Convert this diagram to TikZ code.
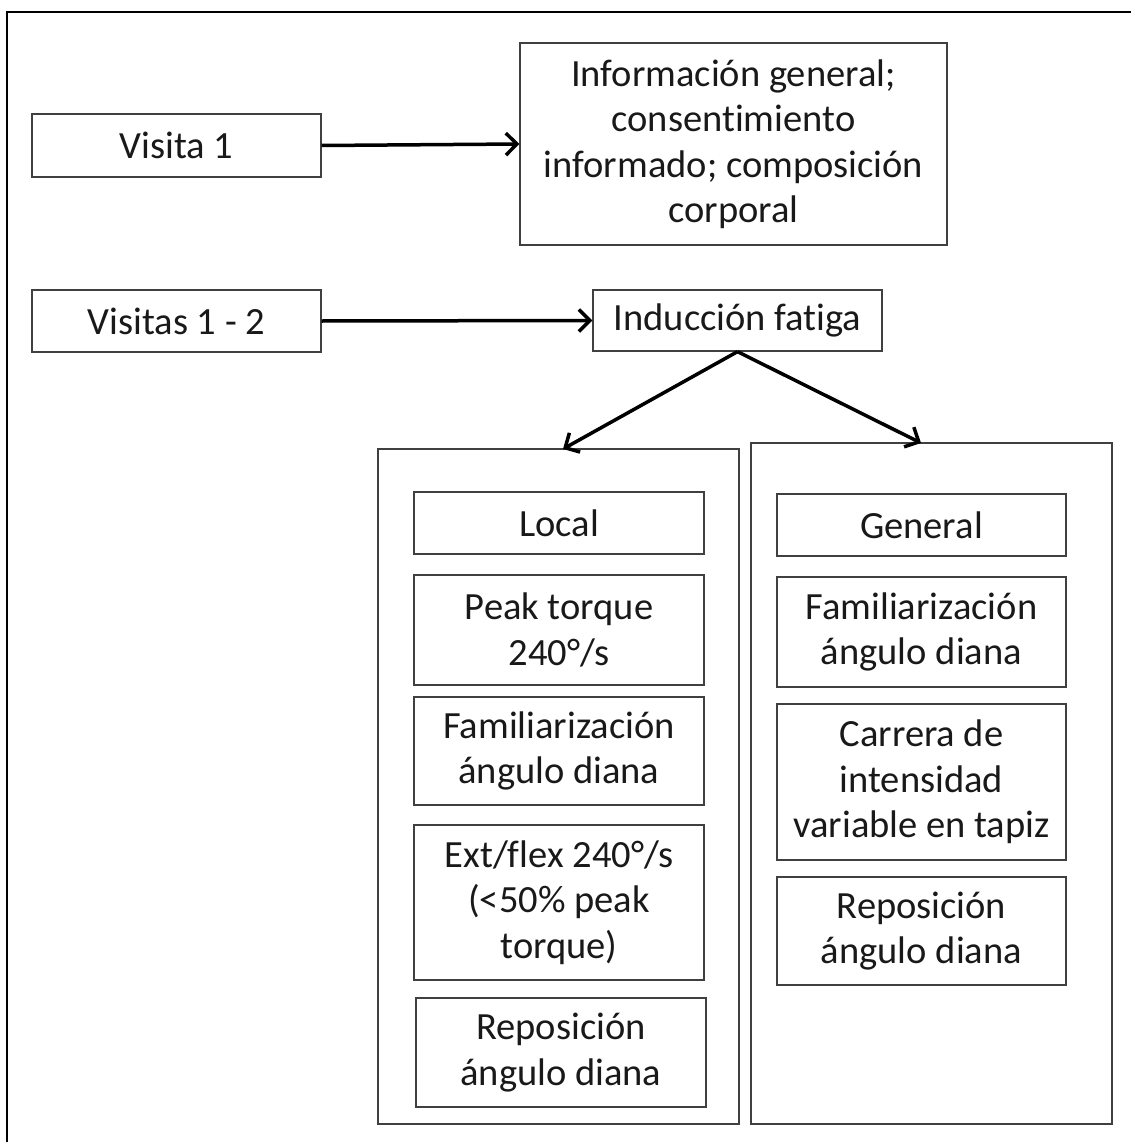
\documentclass[tikz,border=0pt]{standalone}
\usepackage{fontspec}
\setmainfont{Carlito}[Ligatures=NoCommon]
\usetikzlibrary{arrows.meta}
\tikzset{
  box/.style={draw=black!75, line width=1.3pt, fill=white, align=center, inner sep=0pt,
    font=\fontsize{38.5}{45.5}\selectfont, text=black!90},
  frame/.style={draw=black!75, line width=1.3pt, inner sep=0pt},
  conn/.style={draw=black, line width=3.5pt, -{Straight Barb[length=11pt,width=22pt,line width=3.5pt]}},
}
\begin{document}
\begin{tikzpicture}[x=1pt,y=-1pt]
\useasboundingbox (0,0) rectangle (1131,1142);
\draw[black, line width=2pt] (7,1150) -- (7,12) -- (1140,12);
% top row
\node[box, minimum width=289, minimum height=63] (v1) at (176.5,145.5) {Visita 1};
\node[box, minimum width=427, minimum height=202] (info) at (733.5,144) {Información general;\\consentimiento\\informado; composición\\corporal};
\node[box, minimum width=289, minimum height=62] (v12) at (176.5,321) {Visitas 1 - 2};
\node[box, minimum width=289, minimum height=61] (ind) at (737.5,320.5) {Inducción fatiga};
% containers
\node[frame, minimum width=361, minimum height=675] (lc) at (558.5,786.5) {};
\node[frame, minimum width=361, minimum height=681] (rc) at (931.5,783.5) {};
% left column
\node[box, minimum width=290, minimum height=62] (local) at (559,523) {Local};
\node[box, minimum width=290, minimum height=110] (peak) at (559,630) {Peak torque\\240°/s};
\node[box, minimum width=290, minimum height=108] (faml) at (559,751) {Familiarización\\ángulo diana};
\node[box, minimum width=290, minimum height=155] (ext) at (559,902.5) {Ext/flex 240°/s\\(<50\% peak\\torque)};
\node[box, minimum width=290, minimum height=109] (repl) at (561,1052.5) {Reposición\\ángulo diana};
% right column
\node[box, minimum width=289, minimum height=62] (gen) at (921.5,525) {General};
\node[box, minimum width=289, minimum height=110] (famr) at (921.5,632) {Familiarización\\ángulo diana};
\node[box, minimum width=289, minimum height=156] (carr) at (921.5,782) {Carrera de\\intensidad\\variable en tapiz};
\node[box, minimum width=289, minimum height=108] (repr) at (921.5,931) {Reposición\\ángulo diana};
% connectors
\coordinate (tipl) at (563,449);
\coordinate (tipr) at (921,443);
\draw[conn] (v1.east) -- (info.west);
\draw[conn] (v12.east) -- (ind.west);
\draw[conn] (ind.south) -- (tipl);
\draw[conn] (ind.south) -- (tipr);
\end{tikzpicture}
\end{document}
